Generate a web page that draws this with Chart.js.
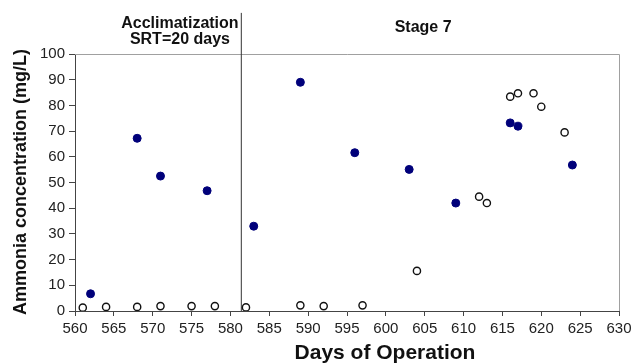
<!DOCTYPE html>
<html>
<head>
<meta charset="utf-8">
<script src="https://cdn.jsdelivr.net/npm/chart.js@4/dist/chart.umd.min.js"></script>
<style>
html,body{margin:0;padding:0;background:#fff;}
#wrap{width:634px;height:363px;position:relative;}
</style>
</head>
<body>
<div id="wrap"><canvas id="c" width="634" height="363"></canvas></div>
<script>
const filledDays = [562, 568, 571, 577, 583, 589, 596, 603, 609, 616, 617, 624];
const filledValues = [6.7, 67.2, 52.5, 46.8, 33, 89, 61.6, 55.1, 42, 73.2, 71.9, 56.8];
const openDays = [561, 564, 568, 571, 575, 578, 582, 589, 592, 597, 604, 612, 613, 616, 617, 619, 620, 623];
const openValues = [1.3, 1.6, 1.6, 1.9, 1.9, 1.9, 1.4, 2.2, 1.9, 2.2, 15.6, 44.5, 42, 83.4, 84.7, 84.7, 79.5, 69.5];
const dividerDay = 581.4;
const dividerValues = [0, 116];
const xMin = 560, xMax = 630, xStep = 5;
const yMin = 0, yMax = 100, yStep = 10;
const yTitle = "Ammonia concentration (mg/L)";
const xTitle = "Days of Operation";
const phaseLabels = [
  {day: 573.5, lines: ["Acclimatization", "SRT=20 days"]},
  {day: 604.8, lines: ["Stage 7"]}
];

const FONT = "'Liberation Sans', Arial, sans-serif";

const decor = {
  id: 'decor',
  beforeDatasetsDraw(chart) {
    const {ctx, chartArea: a} = chart;
    ctx.save();
    ctx.strokeStyle = '#a0a0a0';
    ctx.lineWidth = 1;
    ctx.beginPath();
    ctx.moveTo(a.left, a.top + 0.5);
    ctx.lineTo(a.right + 0.5, a.top + 0.5);
    ctx.lineTo(a.right + 0.5, a.bottom);
    ctx.stroke();
    ctx.restore();
  },
  afterDraw(chart) {
    const {ctx, scales} = chart;
    ctx.save();
    ctx.fillStyle = '#111';
    ctx.textAlign = 'center';
    ctx.textBaseline = 'middle';
    ctx.font = 'bold 16px ' + FONT;
    phaseLabels.forEach((p) => {
      const x = scales.x.getPixelForValue(p.day);
      p.lines.forEach((t, j) => {
        const y = p.lines.length > 1 ? 24 + j * 16 : 28;
        ctx.fillText(t, x, y);
      });
    });
    ctx.font = 'bold 18px ' + FONT;
    ctx.save();
    ctx.translate(21, 182);
    ctx.rotate(-Math.PI / 2);
    ctx.fillText(yTitle, 0, 0);
    ctx.restore();
    ctx.font = 'bold 21px ' + FONT;
    ctx.fillText(xTitle, 385, 353);
    ctx.restore();
  }
};

new Chart(document.getElementById('c'), {
  type: 'scatter',
  data: {
    datasets: [
      {
        label: 'divider',
        type: 'line',
        data: dividerValues.map(v => ({x: dividerDay, y: v})),
        borderColor: '#333',
        borderWidth: 1,
        pointRadius: 0,
        clip: false,
        order: 3
      },
      {
        label: 'open',
        data: openDays.map((d, i) => ({x: d, y: openValues[i]})),
        pointRadius: 3.6,
        pointBackgroundColor: '#fff',
        pointBorderColor: '#111',
        pointBorderWidth: 1.4,
        order: 2
      },
      {
        label: 'filled',
        data: filledDays.map((d, i) => ({x: d, y: filledValues[i]})),
        pointRadius: 4,
        pointBackgroundColor: '#00007a',
        pointBorderColor: '#00007a',
        pointBorderWidth: 1,
        order: 1
      }
    ]
  },
  options: {
    responsive: false,
    animation: false,
    layout: {padding: {top: 54, right: 15, left: 0, bottom: 0}},
    plugins: {legend: {display: false}, tooltip: {enabled: false}},
    scales: {
      x: {
        type: 'linear', min: xMin, max: xMax,
        afterFit(s) { s.height = 52; s.paddingLeft = 0; s.paddingRight = 0; },
        ticks: {stepSize: xStep, color: '#222', font: {family: FONT, size: 15}, padding: 4, maxRotation: 0},
        grid: {display: true, drawOnChartArea: false, drawTicks: true, tickLength: 5, color: '#444'},
        border: {display: true, color: '#444', width: 1}
      },
      y: {
        min: yMin, max: yMax,
        afterFit(s) { s.width = 75; s.paddingTop = 0; s.paddingBottom = 0; },
        ticks: {stepSize: yStep, color: '#222', font: {family: FONT, size: 15}, padding: 4},
        grid: {display: true, drawOnChartArea: false, drawTicks: true, tickLength: 6, color: '#444'},
        border: {display: true, color: '#444', width: 1}
      }
    }
  },
  plugins: [decor]
});
</script>
</body>
</html>
